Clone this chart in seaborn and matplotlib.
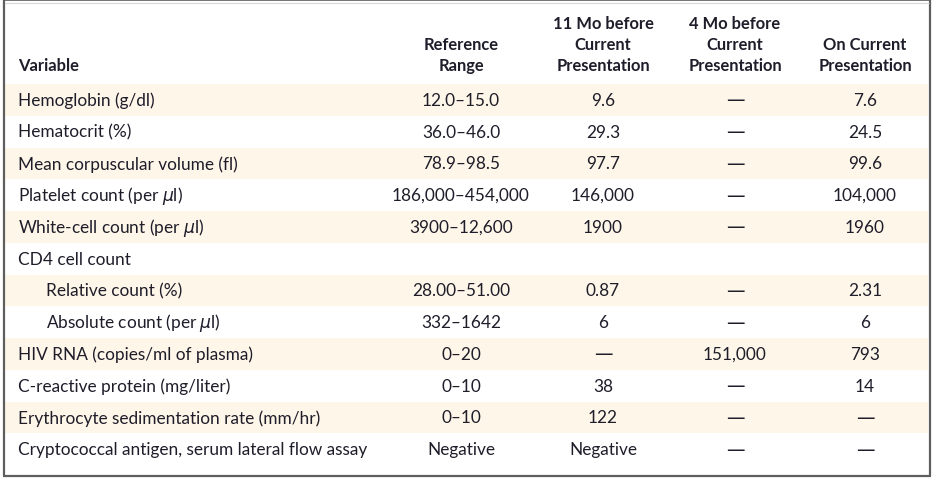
import matplotlib
matplotlib.use("Agg")
import matplotlib.pyplot as plt
from matplotlib.colors import ListedColormap
import seaborn as sns
import numpy as np

# ---- table content ----
headers = ["Variable", "Reference\nRange", "11 Mo before\nCurrent\nPresentation",
           "4 Mo before\nCurrent\nPresentation", "On Current\nPresentation"]
MU = r"$\mu$"
variables = ["Hemoglobin (g/dl)", "Hematocrit (%)", "Mean corpuscular volume (fl)",
             "Platelet count (per " + MU + "l)", "White-cell count (per " + MU + "l)", "CD4 cell count",
             "Relative count (%)", "Absolute count (per " + MU + "l)", "HIV RNA (copies/ml of plasma)",
             "C-reactive protein (mg/liter)", "Erythrocyte sedimentation rate (mm/hr)",
             "Cryptococcal antigen, serum lateral flow assay"]
indented = [False, False, False, False, False, False, True, True, False, False, False, False]
ref_range = ["12.0\u201315.0", "36.0\u201346.0", "78.9\u201398.5", "186,000\u2013454,000",
             "3900\u201312,600", "", "28.00\u201351.00", "332\u20131642", "0\u201320",
             "0\u201310", "0\u201310", "Negative"]
mo11 = ["9.6", "29.3", "97.7", "146,000", "1900", "", "0.87", "6", "\u2014", "38", "122", "Negative"]
mo4 = ["\u2014", "\u2014", "\u2014", "\u2014", "\u2014", "", "\u2014", "\u2014", "151,000",
       "\u2014", "\u2014", "\u2014"]
current = ["7.6", "24.5", "99.6", "104,000", "1960", "", "2.31", "6", "793", "14", "\u2014", "\u2014"]

sns.set_theme(style="white")
plt.rcParams["font.family"] = ["Lato", "DejaVu Sans"]
plt.rcParams["mathtext.fontset"] = "dejavusans"

W, H = 934, 481
fig = plt.figure(figsize=(W / 100, H / 100), dpi=100)
fig.patch.set_facecolor("white")

TOP, ROWH = 85, 31.75
n = len(variables)
TXT = "#1f1d2a"
CREAM = "#fef7e9"
FS = 12.4
HFS = 11.9

# striped row backgrounds via seaborn heatmap
hm_ax = fig.add_axes([5 / W, 1 - (TOP + n * ROWH) / H, (928 - 5) / W, n * ROWH / H])
stripe = np.array([[1.0 if i % 2 == 0 else 0.0] for i in range(n)])
sns.heatmap(stripe, ax=hm_ax, cmap=ListedColormap(["white", CREAM]), cbar=False,
            vmin=0, vmax=1, xticklabels=False, yticklabels=False)
hm_ax.axis("off")

ax = fig.add_axes([0, 0, 1, 1], zorder=3)
ax.patch.set_alpha(0)
ax.set_xlim(0, W)
ax.set_ylim(H, 0)
ax.axis("off")

col_x = [18, 461, 603, 735, 865]

# headers (bottom-aligned lines)
for j, h in enumerate(headers):
    lines = h.split("\n")
    for k, line in enumerate(reversed(lines)):
        y = 66 - 21 * k
        ax.text(col_x[j], y, line, ha="left" if j == 0 else "center", va="center",
                fontsize=HFS, fontweight="bold", color=TXT)

# body
for i in range(n):
    y = TOP + ROWH * (i + 0.5)
    ax.text(46 if indented[i] else col_x[0], y, variables[i], ha="left", va="center",
            fontsize=FS, color=TXT)
    for j, col in enumerate([ref_range, mo11, mo4, current], start=1):
        s = col[i]
        if s == "\u2014":
            ax.text(col_x[j], y, s, ha="center", va="center", fontsize=FS + 1,
                    color=TXT, family=["DejaVu Sans"])
        else:
            ax.text(col_x[j], y, s, ha="center", va="center", fontsize=FS, color=TXT)

# borders
bc = "#5e5e5e"
ax.plot([4, 4], [0, 477], color=bc, lw=1.6, solid_capstyle="butt")
ax.plot([929.5, 929.5], [0, 477], color=bc, lw=1.6, solid_capstyle="butt")
ax.plot([3, 930.5], [476.5, 476.5], color=bc, lw=1.6, solid_capstyle="butt")
ax.plot([3, 930.5], [0.5, 0.5], color=bc, lw=1.2, solid_capstyle="butt")
ax.plot([5, 929], [4, 4], color="#d8d8d8", lw=0.8, solid_capstyle="butt")

fig.savefig("out.png", dpi=100, facecolor="white")
